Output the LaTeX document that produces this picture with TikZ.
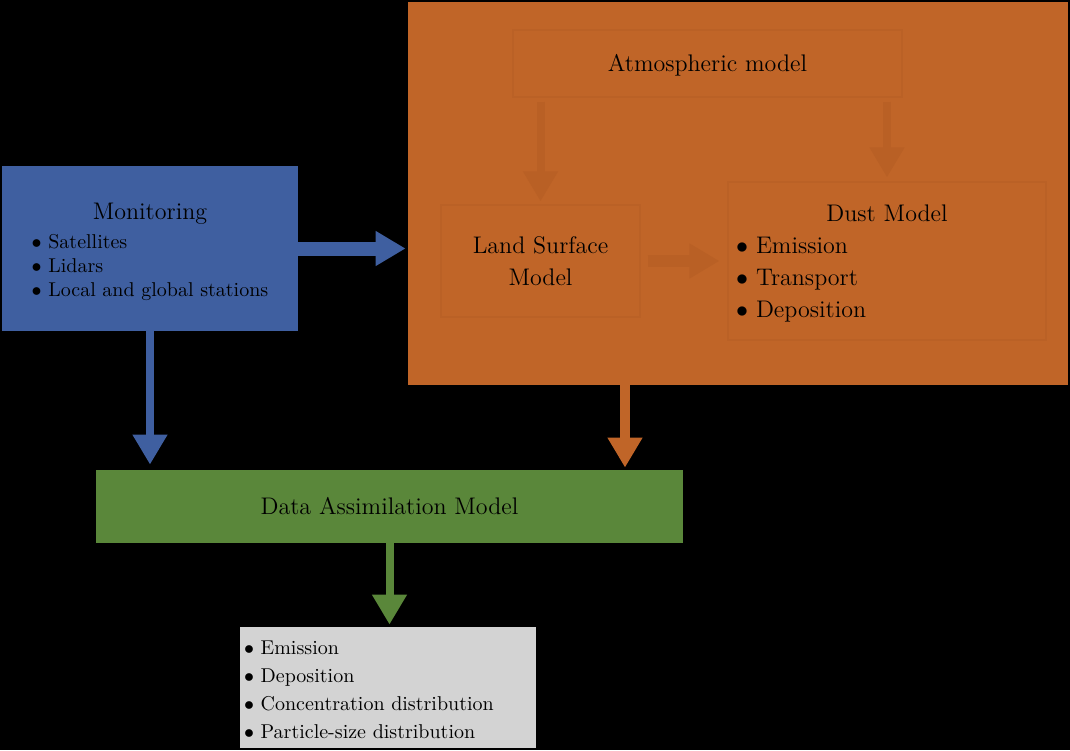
\documentclass[tikz,border=0pt]{standalone}
\usepackage{fontspec}
\usetikzlibrary{arrows.meta}
\definecolor{orng}{RGB}{192,101,40}
\definecolor{orngdark}{RGB}{185,96,37}
\definecolor{orngline}{RGB}{186,97,38}
\definecolor{blu}{RGB}{63,95,160}
\definecolor{grn}{RGB}{90,135,58}
\definecolor{gry}{RGB}{211,211,211}
\newcommand{\bul}{$\bullet$\ }
\tikzset{
  box/.style={rectangle, inner sep=0pt, text=black, align=center},
  innerbox/.style={box, draw=orngline, line width=0.6pt, fill=orng},
  fatarrow/.style={-{Triangle[width=16.5pt,length=15pt]}},
  bigtext/.style={font=\fontsize{12}{16}\selectfont},
  smalltext/.style={font=\fontsize{10}{12}\selectfont}
}
\begin{document}
\begin{tikzpicture}[x=0.5pt,y=-0.5pt]
\fill[black] (0,0) rectangle (1070,750);
\useasboundingbox (0,0) rectangle (1070,750);
% big orange box
\node[box, fill=orng, minimum width=330pt, minimum height=191.5pt] (orange) at (738,193.5) {};
\node[innerbox, bigtext, minimum width=194.5pt, minimum height=33.5pt] (atmos) at (707.5,63.5) {\rule{0pt}{10.2pt}Atmospheric model};
\node[innerbox, bigtext, minimum width=99.5pt, minimum height=56pt] (land) at (540.5,261) {Land Surface\\Model};
\node[innerbox, bigtext, minimum width=159pt, minimum height=79pt, text width=151pt, align=left] (dust) at (887,261)
  {\centering\rule{0pt}{11.2pt}Dust Model\par\raggedright
   \bul Emission\par
   \bul Transport\par
   \bul Deposition\par};
% monitoring
\node[box, fill=blu, smalltext, minimum width=148pt, minimum height=82.5pt] (mon) at (150,248.5)
  {\begin{tabular}{@{}l@{}}
   \multicolumn{1}{@{}c@{}}{\rule{0pt}{13.4pt}\fontsize{12}{14}\selectfont Monitoring}\\[2.5pt]
   \bul Satellites\\
   \bul Lidars\\
   \bul Local and global stations
   \end{tabular}};
% data assimilation
\node[box, fill=grn, bigtext, minimum width=293.5pt, minimum height=36.5pt] (green) at (389.5,506.5) {Data Assimilation Model};
% outputs
\node[box, fill=gry, font=\fontsize{10}{14}\selectfont, minimum width=148pt, minimum height=60.5pt, text width=144pt, align=left] (grey) at (388,687.5)
  {\rule{0pt}{9pt}\bul Emission\par
   \bul Deposition\par
   \bul Concentration distribution\par
   \bul Particle-size distribution\par};
% arrows
\draw[fatarrow, blu, line width=7pt, shorten >=1pt] (mon.east) -- (mon.east -| orange.west);
\draw[fatarrow, blu, line width=4pt, shorten >=2.5pt] (mon.south) -- (mon.south |- green.north);
\coordinate (odx) at (625,0);
\draw[fatarrow, orng, line width=5pt, shorten >=1pt] (odx |- orange.south) -- (odx |- green.north);
\draw[fatarrow, grn, line width=4pt, shorten >=1pt] (green.south) -- (green.south |- grey.north);
% inner arrows
\draw[fatarrow, orngdark, line width=4pt, shorten <=2pt, shorten >=1.5pt] (land.north |- atmos.south) -- (land.north);
\draw[fatarrow, orngdark, line width=4pt, shorten <=2pt, shorten >=2pt] (dust.north |- atmos.south) -- (dust.north);
\draw[fatarrow, orngdark, line width=6pt, shorten <=3.5pt, shorten >=4pt] (land.east) -- (dust.west |- land.east);
\end{tikzpicture}
\end{document}
